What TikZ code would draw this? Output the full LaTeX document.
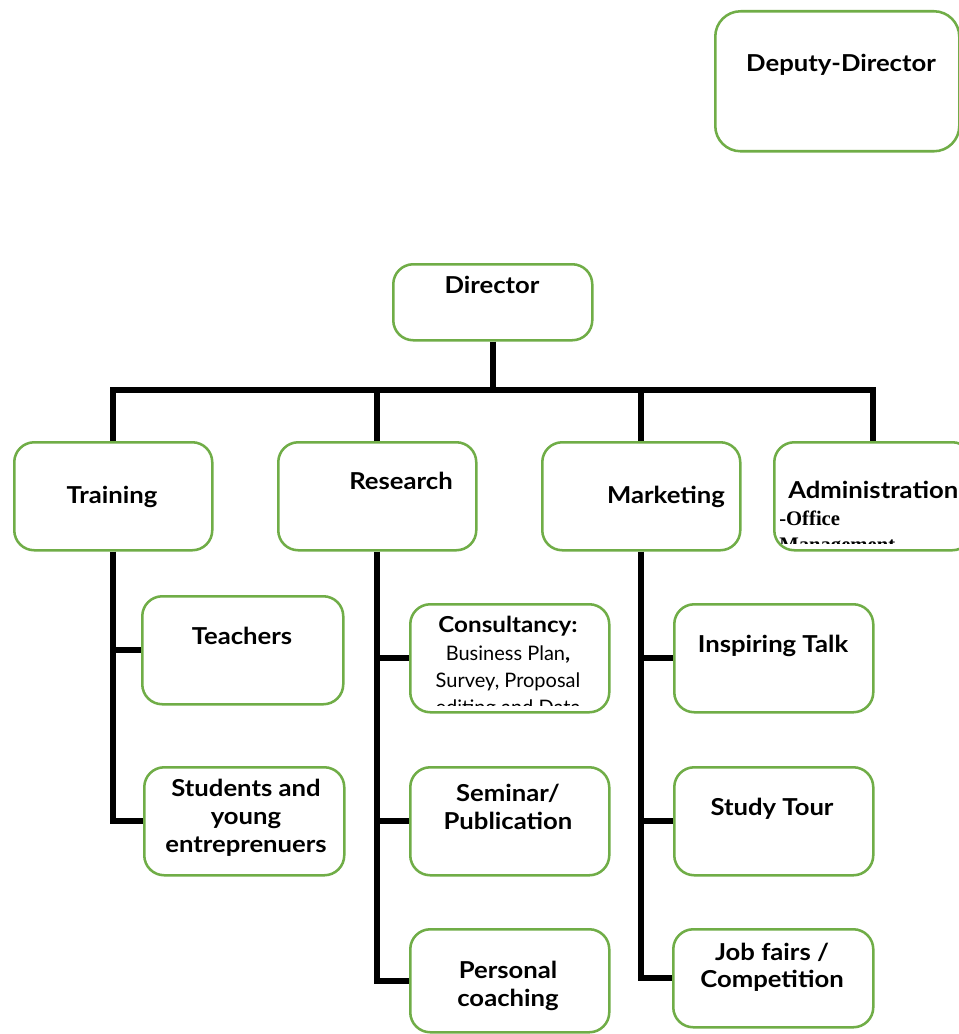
\documentclass[tikz,border=0pt]{standalone}
\usepackage{fontspec}
\setmainfont{Lato}[BoldFeatures={FakeStretch=1.1}]
\newfontfamily\timesf{Liberation Serif}
\definecolor{boxgreen}{HTML}{70AD47}
\tikzset{
  orgbox/.style={draw=boxgreen, line width=1.9pt, rounded corners=15pt, fill=white,
    inner sep=0pt, anchor=north west, minimum width=148.5pt, minimum height=81pt},
  tree/.style={line width=4.6pt, line join=miter, draw=black},
  lab/.style={font=\fontsize{17.5}{21}\selectfont\bfseries, anchor=base, inner sep=0pt},
  smalllab/.style={font=\fontsize{15}{18}\selectfont, anchor=base, inner sep=0pt},
}
\begin{document}
\begin{tikzpicture}[x=0.75pt,y=-0.75pt]
\useasboundingbox (0,0) rectangle (959,1034);
\fill[white] (0,0) rectangle (959,1034);

% boxes
\node[orgbox, minimum width=183pt, minimum height=105pt, rounded corners=19pt] (deputy) at (714,10) {};
\node[orgbox, minimum width=149.25pt, minimum height=57pt] (director) at (392,263) {};
\node[orgbox] (training) at (13,441) {};
\node[orgbox] (research) at (277,441) {};
\node[orgbox] (marketing) at (541,441) {};
\node[orgbox] (admin) at (773,441) {};
\node[orgbox, minimum width=150.75pt] (teachers) at (141,595) {};
\node[orgbox, minimum width=150pt] (students) at (143,766) {};
\node[orgbox, minimum width=149.25pt] (consult) at (409,603) {};
\node[orgbox, minimum width=149.25pt] (seminar) at (409,766) {};
\node[orgbox, minimum width=149.25pt, minimum height=77.25pt] (personal) at (409,928) {};
\node[orgbox, minimum width=149.25pt] (inspiring) at (673,603) {};
\node[orgbox, minimum width=149.25pt] (study) at (673,766) {};
\node[orgbox, minimum width=150pt, minimum height=73.5pt] (jobfairs) at (672,928) {};

% tree connectors
\coordinate (bary) at (0,390);
\draw[tree] (training.north) -- (training.north |- bary) -- (admin.north |- bary) -- (admin.north);
\draw[tree] (director.south) -- (director.south |- bary);
\draw[tree] (research.north) -- (research.north |- bary);
\draw[tree] (marketing.north) -- (marketing.north |- bary);

\draw[tree] (training.south) |- (students.west);
\draw[tree] (training.south |- teachers.west) -- (teachers.west);

\draw[tree] (research.south) |- (personal.west);
\draw[tree] (research.south |- consult.west) -- (consult.west);
\draw[tree] (research.south |- seminar.west) -- (seminar.west);

\draw[tree] (marketing.south) |- (jobfairs.west);
\draw[tree] (marketing.south |- inspiring.west) -- (inspiring.west);
\draw[tree] (marketing.south |- study.west) -- (study.west);

% labels
\node[lab] (tdeputy) at (841,72) {Deputy-Director};
\node[lab] (tdirector) at (492,293) {Director};
\node[lab] (ttraining) at (112,503) {Training};
\node[lab] (tresearch) at (401,489) {Research};
\node[lab] (tmarketing) at (666,503) {Marketing};
\node[lab] (tteachers) at (242,644) {Teachers};
\node[lab] (tstud1) at (246,796) {Students and};
\node[lab] (tstud2) at (246,824) {young};
\node[lab] (tstud3) at (246,852) {entreprenuers};
\node[lab] (tsem1) at (508,801) {Seminar/};
\node[lab] (tsem2) at (508,829) {Publication};
\node[lab] (tpers1) at (508,978) {Personal};
\node[lab] (tpers2) at (508,1006) {coaching};
\node[lab] (tinsp) at (773,652) {Inspiring Talk};
\node[lab] (tstudy) at (772,815) {Study Tour};
\node[lab] (tjob1) at (772,960) {Job fairs /};
\node[lab] (tjob2) at (772,987) {Competition};

% clipped texts: administration
\begin{scope}
\clip (775,443) rectangle (959,543);
\node[lab, anchor=base west] (tadmin) at (788,498) {Administration};
\node[font=\timesf\fontsize{15.5}{18}\selectfont\bfseries, anchor=base west, inner sep=0pt] (toffice1) at (779,525) {-Office};
\node[font=\timesf\fontsize{15.5}{18}\selectfont\bfseries, anchor=base west, inner sep=0pt] (toffice2) at (779,551) {Management};
\end{scope}

% clipped texts: consultancy
\begin{scope}
\clip (411,605) rectangle (606,705);
\node[smalllab, font=\fontsize{16.5}{18}\selectfont\bfseries] (tcons) at (508,632) {Consultancy:};
\node[smalllab] (tcons2) at (508,660) {Business Plan{\bfseries ,}};
\node[smalllab] (tcons3) at (508,687) {Survey, Proposal};
\node[smalllab] (tcons4) at (508,714) {editing and Data};
\end{scope}
\end{tikzpicture}
\end{document}
